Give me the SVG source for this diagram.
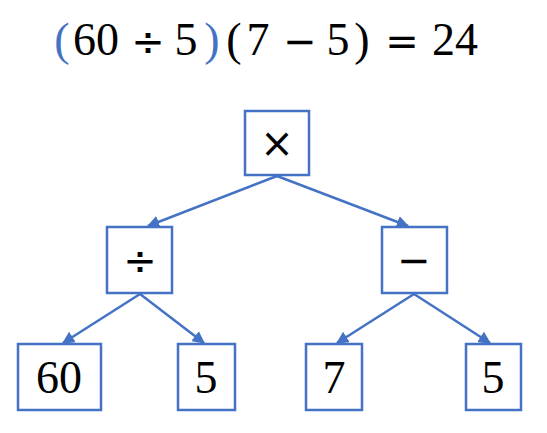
<svg xmlns="http://www.w3.org/2000/svg" width="547" height="433" viewBox="0 0 547 433">
<style>
.box{fill:#fff;stroke:#4472C4;stroke-width:2.5}
.lbl{font-family:"Liberation Serif",serif;font-size:46px;fill:#000;text-anchor:middle}
.op{font-family:"DejaVu Sans",sans-serif;font-size:40px;fill:#000;text-anchor:middle}
.eq{font-family:"Liberation Serif",serif;font-size:46px;fill:#000;text-anchor:middle}
.eqop{font-family:"DejaVu Sans",sans-serif;font-size:40px}
.blue{fill:#4472C4}
.edge{stroke:#4472C4;stroke-width:2.5;fill:none;marker-end:url(#ah)}
</style>
<defs>
<marker id="ah" viewBox="0 0 10 10" refX="9" refY="5" markerWidth="5" markerHeight="5" orient="auto" markerUnits="strokeWidth">
<path d="M0,0 L10,5 L0,10 z" fill="#4472C4"/>
</marker>
</defs>
<g id="equation">
<text class="eq" y="55"><tspan class="blue" x="62">(</tspan><tspan x="96">60</tspan><tspan class="eqop" x="148">÷</tspan><tspan x="186">5</tspan><tspan class="blue" x="212">)</tspan><tspan x="234">(</tspan><tspan x="258">7</tspan><tspan class="eqop" x="300">−</tspan><tspan x="338">5</tspan><tspan x="362">)</tspan><tspan class="eqop" x="402">=</tspan><tspan x="455">24</tspan></text>
</g>
<g id="connectors">
<line class="edge" x1="277" y1="176" x2="148" y2="226"/>
<line class="edge" x1="277" y1="176" x2="408" y2="226"/>
<line class="edge" x1="140" y1="294" x2="63" y2="343"/>
<line class="edge" x1="140" y1="294" x2="204" y2="343"/>
<line class="edge" x1="414" y1="294" x2="337" y2="343"/>
<line class="edge" x1="414" y1="294" x2="490" y2="343"/>
</g>
<g id="node-times"><rect class="box" x="245" y="111" width="64" height="64"/><text class="op" x="277" y="157">×</text></g>
<g id="node-div"><rect class="box" x="107" y="227" width="65" height="66"/><text class="op" x="140" y="274">÷</text></g>
<g id="node-minus"><rect class="box" x="382" y="227" width="65" height="66"/><text class="op" x="414" y="274">−</text></g>
<g id="node-60"><rect class="box" x="18" y="344" width="83" height="66"/><text class="lbl" x="59" y="393">60</text></g>
<g id="node-5a"><rect class="box" x="178" y="344" width="57" height="66"/><text class="lbl" x="206" y="393">5</text></g>
<g id="node-7"><rect class="box" x="306" y="344" width="56" height="66"/><text class="lbl" x="334" y="393">7</text></g>
<g id="node-5b"><rect class="box" x="466" y="344" width="55" height="66"/><text class="lbl" x="493" y="393">5</text></g>
</svg>
